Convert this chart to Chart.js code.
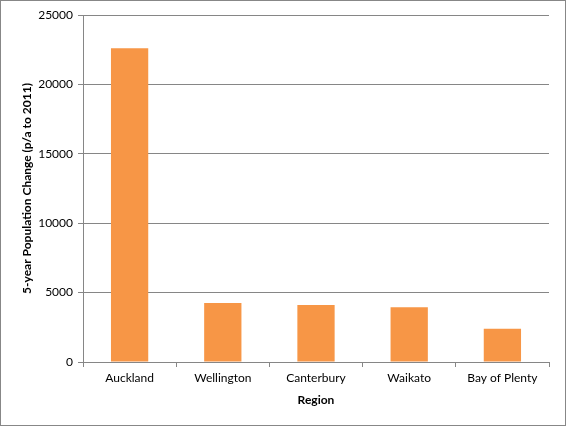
<!DOCTYPE html>
<html>
<head>
<meta charset="utf-8">
<script src="https://cdn.jsdelivr.net/npm/chart.js@4/dist/chart.umd.min.js"></script>
<style>
  html, body { margin: 0; padding: 0; background: #fff; }
  #wrap { position: relative; width: 564px; height: 424px; border: 1px solid #878787; }
</style>
</head>
<body>
<div id="wrap"><canvas id="chart"></canvas></div>
<script>
const regions = ["Auckland", "Wellington", "Canterbury", "Waikato", "Bay of Plenty"];
const popChange = [22600, 4250, 4100, 3950, 2400];
const yTicks = [0, 5000, 10000, 15000, 20000, 25000];

const font = "Lato, 'Open Sans', sans-serif";
const ctx = document.getElementById("chart").getContext("2d");

new Chart(ctx, {
  type: "bar",
  data: {
    labels: regions,
    datasets: [
      {
        label: "5-year Population Change",
        data: popChange,
        backgroundColor: "#F79646",
        borderWidth: 0,
        barPercentage: 0.4,
        categoryPercentage: 1,
      },
    ],
  },
  options: {
    responsive: true,
    maintainAspectRatio: false,
    animation: false,
    layout: {
      padding: { left: 12, top: 14, right: 16, bottom: 16 },
    },
    plugins: {
      legend: { display: false },
      tooltip: { enabled: false },
    },
    scales: {
      x: {
        grid: {
          offset: true,
          drawOnChartArea: false,
          drawTicks: true,
          tickLength: 5,
          color: "#868686",
        },
        border: { color: "#868686" },
        ticks: {
          color: "#000",
          font: { family: font, size: 12 },
          padding: 4,
        },
        title: {
          display: true,
          text: "Region",
          color: "#000",
          font: { family: font, size: 12, weight: "bold" },
          padding: { top: 2, bottom: 2 },
        },
        afterFit: (scale) => {
          scale.height = 47;
        },
      },
      y: {
        min: 0,
        max: 25000,
        afterBuildTicks: (scale) => {
          scale.ticks = yTicks.map((v) => ({ value: v }));
        },
        grid: {
          color: "#868686",
          tickLength: 5,
        },
        border: { color: "#868686" },
        ticks: {
          color: "#000",
          font: { family: font, size: 12 },
          padding: 5,
          callback: (v) => String(v),
        },
        title: {
          display: true,
          text: "5-year Population Change (p/a to 2011)",
          color: "#000",
          font: { family: font, size: 12, weight: "bold" },
          padding: { top: 7, bottom: 0 },
        },
        afterFit: (scale) => {
          scale.width = 70;
        },
      },
    },
  },
});
</script>
</body>
</html>
